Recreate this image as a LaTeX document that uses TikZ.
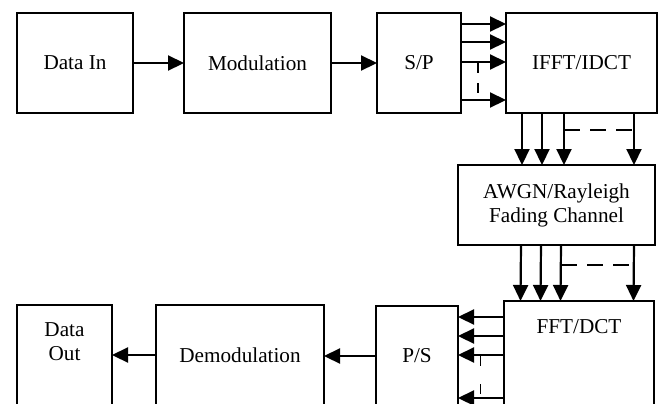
\documentclass[tikz,border=0pt]{standalone}
\usepackage{fontspec}
\setmainfont{Liberation Serif}
\usetikzlibrary{arrows.meta,positioning,calc}
\tikzset{
  blk/.style={draw=black,line width=1pt,minimum height=50pt,inner sep=3pt,outer sep=0pt,align=center,font=\fontsize{10.6}{12}\selectfont},
  blkt/.style={blk,minimum height=0pt,inner ysep=9pt,text depth=50pt},
  arr/.style={-{Triangle[length=8pt,width=7.5pt]},line width=1.1pt},
  hdash/.style={line width=0.8pt,dash pattern=on 8pt off 5pt},
  vdash/.style={line width=0.8pt,dash pattern=on 5pt off 5pt},
}
\begin{document}
\begin{tikzpicture}[x=0.5pt,y=-0.5pt]
\useasboundingbox (0,0) rectangle (660,403);
\clip (0,0) rectangle (660,403);
% transmitter row
\node[blk,minimum width=58pt] (din) at (75,63) {Data In};
\node[blk,minimum width=73.5pt,right=25.5pt of din] (mod) {Modulation};
\node[blk,minimum width=42pt,right=23pt of mod] (sp) {S/P};
\node[blk,minimum width=75.5pt,right=22.5pt of sp] (ifft) {IFFT/IDCT};
\draw[arr] (din) -- (mod); \draw[arr] (mod) -- (sp);
\draw[arr] ($(sp.east)+(0,-39)$) -- ($(sp.east -| ifft.west)+(0,-39)$);
\draw[arr] ($(sp.east)+(0,-21)$) -- ($(sp.east -| ifft.west)+(0,-21)$);
\draw[arr] ($(sp.east)+(0,-1)$) -- ($(sp.east -| ifft.west)+(0,-1)$);
\draw[arr] ($(sp.east)+(0,37)$) -- ($(sp.east -| ifft.west)+(0,37)$);
\draw[vdash] ($(sp.east)+(17,0)$) -- ($(sp.east)+(17,34)$);
% channel
\node[blk,minimum width=98.5pt,minimum height=40pt,below=26pt of ifft.south east,anchor=north east,xshift=-1pt] (awgn) {AWGN/Rayleigh\\Fading Channel};
\draw[arr] ($(ifft.south)+(-59.5,0)$) -- ($(awgn.north)+(-34.5,0)$);
\draw[arr] ($(ifft.south)+(-39.5,0)$) -- ($(awgn.north)+(-14.5,0)$);
\draw[arr] ($(ifft.south)+(-17.5,0)$) -- ($(awgn.north)+(7.5,0)$);
\draw[arr] ($(ifft.south)+(52.5,0)$) -- ($(awgn.north)+(77.5,0)$);
\draw[hdash] ($(ifft.south)+(-17.5,17)$) -- ($(ifft.south)+(52.5,17)$);
% receiver row
\node[blkt,minimum width=75pt,below=28pt of awgn.south east,anchor=north east,xshift=-0.5pt] (fft) {FFT/DCT};
\draw[arr] ($(awgn.south)+(-35.5,0)$) -- ($(fft.north)+(-58.5,0)$);
\draw[arr] ($(awgn.south)+(-15.5,0)$) -- ($(fft.north)+(-38.5,0)$);
\draw[arr] ($(awgn.south)+(4.5,0)$) -- ($(fft.north)+(-18.5,0)$);
\draw[arr] ($(awgn.south)+(77.5,0)$) -- ($(fft.north)+(54.5,0)$);
\draw[hdash] ($(awgn.south)+(4.5,20)$) -- ($(awgn.south)+(77.5,20)$);
\node[blk,minimum width=41pt,left=23pt of fft.north west,anchor=north east,yshift=-2.5pt] (ps) {P/S};
\node[blk,minimum width=84pt,left=26pt of ps.north west,anchor=north east,yshift=0.5pt] (demod) {Demodulation};
\node[blkt,minimum width=47.5pt,left=22pt of demod.north west,anchor=north east] (dout) {Data\\Out};
\draw[arr] ($(ps.east -| fft.west)+(0,-39)$) -- ($(ps.east)+(0,-39)$);
\draw[arr] ($(ps.east -| fft.west)+(0,-20)$) -- ($(ps.east)+(0,-20)$);
\draw[arr] ($(ps.east -| fft.west)+(0,-1)$) -- ($(ps.east)+(0,-1)$);
\draw[arr] ($(ps.east -| fft.west)+(0,42)$) -- ($(ps.east)+(0,42)$);
\draw[vdash,dash pattern=on 5pt off 9pt] ($(ps.east)+(22.5,0)$) -- ($(ps.east)+(22.5,42)$);
\draw[arr] (ps.west) -- (ps.west -| demod.east);
\draw[arr] (demod.west) -- (demod.west -| dout.east);
\end{tikzpicture}
\end{document}
